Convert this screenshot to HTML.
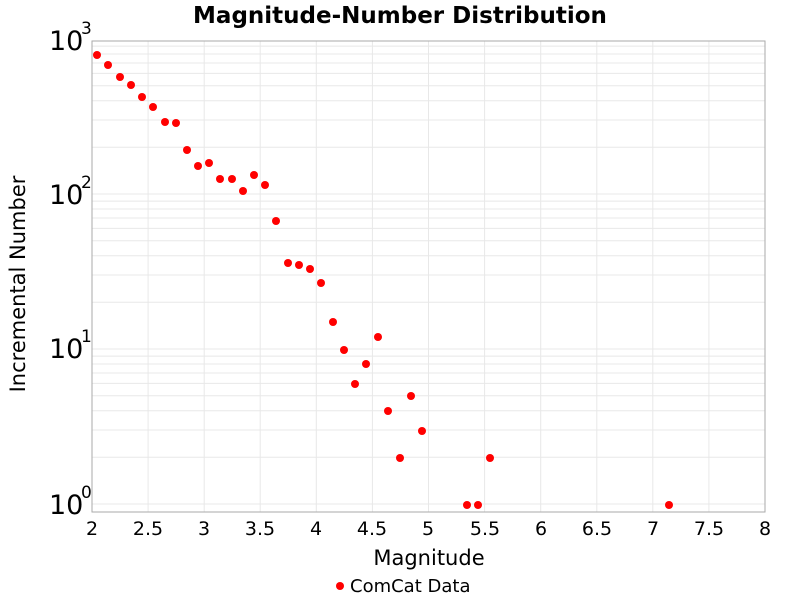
<!DOCTYPE html>
<html><head><style>body{margin:0;background:#fff}svg{display:block}</style></head><body>
<svg width="800" height="600" xmlns="http://www.w3.org/2000/svg" font-family="'DejaVu Sans','Liberation Sans',sans-serif">
<rect width="800" height="600" fill="#fff"/>
<g stroke="#e8e8e8" stroke-width="1">
<line x1="148.1" y1="41" x2="148.1" y2="512"/><line x1="204.2" y1="41" x2="204.2" y2="512"/><line x1="260.2" y1="41" x2="260.2" y2="512"/><line x1="316.3" y1="41" x2="316.3" y2="512"/><line x1="372.4" y1="41" x2="372.4" y2="512"/><line x1="428.5" y1="41" x2="428.5" y2="512"/><line x1="484.6" y1="41" x2="484.6" y2="512"/><line x1="540.7" y1="41" x2="540.7" y2="512"/><line x1="596.8" y1="41" x2="596.8" y2="512"/><line x1="652.8" y1="41" x2="652.8" y2="512"/><line x1="708.9" y1="41" x2="708.9" y2="512"/>
<line x1="92" y1="504" x2="765" y2="504"/><line x1="92" y1="457.3" x2="765" y2="457.3"/><line x1="92" y1="430.0" x2="765" y2="430.0"/><line x1="92" y1="410.7" x2="765" y2="410.7"/><line x1="92" y1="395.7" x2="765" y2="395.7"/><line x1="92" y1="383.4" x2="765" y2="383.4"/><line x1="92" y1="373.0" x2="765" y2="373.0"/><line x1="92" y1="364.0" x2="765" y2="364.0"/><line x1="92" y1="356.1" x2="765" y2="356.1"/>
<line x1="92" y1="349" x2="765" y2="349"/><line x1="92" y1="302.3" x2="765" y2="302.3"/><line x1="92" y1="275.0" x2="765" y2="275.0"/><line x1="92" y1="255.7" x2="765" y2="255.7"/><line x1="92" y1="240.7" x2="765" y2="240.7"/><line x1="92" y1="228.4" x2="765" y2="228.4"/><line x1="92" y1="218.0" x2="765" y2="218.0"/><line x1="92" y1="209.0" x2="765" y2="209.0"/><line x1="92" y1="201.1" x2="765" y2="201.1"/>
<line x1="92" y1="194" x2="765" y2="194"/><line x1="92" y1="147.3" x2="765" y2="147.3"/><line x1="92" y1="120.0" x2="765" y2="120.0"/><line x1="92" y1="100.7" x2="765" y2="100.7"/><line x1="92" y1="85.7" x2="765" y2="85.7"/><line x1="92" y1="73.4" x2="765" y2="73.4"/><line x1="92" y1="63.0" x2="765" y2="63.0"/><line x1="92" y1="54.0" x2="765" y2="54.0"/><line x1="92" y1="46.1" x2="765" y2="46.1"/>
</g>
<rect x="92" y="41" width="673" height="471" fill="none" stroke="#aaa" stroke-width="1"/>
<g fill="#f00">
<circle cx="97" cy="55" r="4"/><circle cx="108" cy="65" r="4"/><circle cx="120" cy="77" r="4"/><circle cx="131" cy="85" r="4"/><circle cx="142" cy="97" r="4"/><circle cx="153" cy="107" r="4"/><circle cx="165" cy="122" r="4"/><circle cx="176" cy="123" r="4"/><circle cx="187" cy="150" r="4"/><circle cx="198" cy="166" r="4"/><circle cx="209" cy="163" r="4"/><circle cx="220" cy="179" r="4"/><circle cx="232" cy="179" r="4"/><circle cx="243" cy="191" r="4"/><circle cx="254" cy="175" r="4"/><circle cx="265" cy="185" r="4"/><circle cx="276" cy="221" r="4"/><circle cx="288" cy="263" r="4"/><circle cx="299" cy="265" r="4"/><circle cx="310" cy="269" r="4"/><circle cx="321" cy="283" r="4"/><circle cx="333" cy="322" r="4"/><circle cx="344" cy="350" r="4"/><circle cx="355" cy="384" r="4"/><circle cx="366" cy="364" r="4"/><circle cx="378" cy="337" r="4"/><circle cx="388" cy="411" r="4"/><circle cx="400" cy="458" r="4"/><circle cx="411" cy="396" r="4"/><circle cx="422" cy="431" r="4"/><circle cx="467" cy="505" r="4"/><circle cx="478" cy="505" r="4"/><circle cx="490" cy="458" r="4"/><circle cx="669" cy="505" r="4"/>
</g>
<text x="400" y="23" text-anchor="middle" font-size="23" font-weight="bold">Magnitude-Number Distribution</text>
<g font-size="19" text-anchor="middle">
<text x="92" y="535">2</text><text x="148" y="535">2.5</text><text x="204" y="535">3</text><text x="260" y="535">3.5</text><text x="316" y="535">4</text><text x="372" y="535">4.5</text><text x="428" y="535">5</text><text x="485" y="535">5.5</text><text x="541" y="535">6</text><text x="597" y="535">6.5</text><text x="653" y="535">7</text><text x="709" y="535">7.5</text><text x="765" y="535">8</text>
</g>
<text x="429" y="565" text-anchor="middle" font-size="21">Magnitude</text>
<text transform="translate(25,284) rotate(-90)" text-anchor="middle" font-size="21">Incremental Number</text>
<g font-size="27">
<text x="49" y="514">10</text><text x="81" y="498" font-size="17">0</text>
<text x="49" y="358">10</text><text x="81" y="342" font-size="17">1</text>
<text x="49" y="204">10</text><text x="81" y="188" font-size="17">2</text>
<text x="49" y="50">10</text><text x="81" y="34" font-size="17">3</text>
</g>
<circle cx="340" cy="586" r="4" fill="#f00"/>
<text x="350" y="592" font-size="18">ComCat Data</text>
</svg>
</body></html>
